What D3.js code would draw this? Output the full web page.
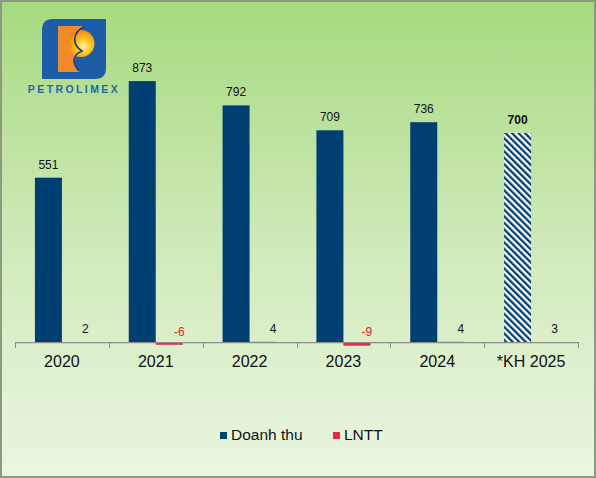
<!DOCTYPE html>
<html><head><meta charset="utf-8">
<script src="https://cdn.jsdelivr.net/npm/d3@7/dist/d3.min.js"></script>
<style>html,body{margin:0;padding:0;background:#fff;}svg{display:block;}</style>
</head><body>
<script>
const categories = ["2020","2021","2022","2023","2024","*KH 2025"];
const doanhThu = [551, 873, 792, 709, 736, 700];
const lntt = [2, -6, 4, -9, 4, 3];
const seriesNames = ["Doanh thu", "LNTT"];
const planIndex = 5; // "*KH 2025" is the plan (hatched / bold)

const W = 596, H = 478;
const svg = d3.select("body").append("svg").attr("width", W).attr("height", H);
const defs = svg.append("defs");

const bg = defs.append("linearGradient").attr("id","bg").attr("x1",0).attr("y1",0).attr("x2",0).attr("y2",1);
bg.append("stop").attr("offset","0%").attr("stop-color","#a7da80");
bg.append("stop").attr("offset","55%").attr("stop-color","#d2ebbd");
bg.append("stop").attr("offset","100%").attr("stop-color","#ebf6e1");

const pat = defs.append("pattern").attr("id","hatch").attr("patternUnits","userSpaceOnUse")
  .attr("width",4.6).attr("height",4.6).attr("patternTransform","rotate(-45)");
pat.append("rect").attr("width",4.6).attr("height",4.6).attr("fill","#ffffff");
pat.append("rect").attr("width",2.3).attr("height",4.6).attr("fill","#003f72");

const rg = defs.append("radialGradient").attr("id","ball").attr("cx","0.6").attr("cy","0.6").attr("r","0.65");
rg.append("stop").attr("offset","0%").attr("stop-color","#fff2a0");
rg.append("stop").attr("offset","45%").attr("stop-color","#ffc21e");
rg.append("stop").attr("offset","100%").attr("stop-color","#f07a18");

svg.append("rect").attr("x",1).attr("y",1).attr("width",W-2).attr("height",H-2)
  .attr("fill","url(#bg)").attr("stroke","#8b9b80").attr("stroke-width",2);

// Logo
const logo = svg.append("g");
logo.append("path").attr("fill","#1d5ca6")
  .attr("d","M42,30 Q42,19 53,19 L106,19 L106,68 Q106,79 95,79 L42,79 Z");
logo.append("path").attr("fill","#f08a2a")
  .attr("d","M58,26 L84,26 C74,32 72,44 82,52 C74,56 72,62 80,72 L58,72 Z");
logo.append("circle").attr("cx",81).attr("cy",43.5).attr("r",13.5).attr("fill","url(#ball)");
logo.append("path").attr("fill","none").attr("stroke","#1b3f7a").attr("stroke-width",1.6)
  .attr("d","M84,26.5 C72,33 72,45 82,51 C73,55 71,62 79,71");
logo.append("text").attr("x",74).attr("y",93).attr("text-anchor","middle")
  .attr("font-family","Liberation Sans, Arial, sans-serif").attr("font-weight","bold")
  .attr("font-size",10.5).attr("letter-spacing",2.4).attr("fill","#2565ad").text("PETROLIMEX");

// Scales
const x0 = d3.scaleBand().domain(categories).range([15, 578]).padding(0);
const x1 = d3.scaleBand().domain(seriesNames).range([0, x0.bandwidth()]).paddingInner(0).paddingOuter(0.737);
const y = d3.scaleLinear().domain([0, 1000]).range([343, 43]);

const navy = "#003f72", red = "#e8284a";
const font = "Liberation Sans, Arial, sans-serif";

// Doanh thu bars
svg.append("g").selectAll("rect").data(doanhThu).join("rect")
  .attr("x",(d,i)=>x0(categories[i]) + x1("Doanh thu"))
  .attr("y",d=>y(Math.max(0,d)))
  .attr("width",x1.bandwidth())
  .attr("height",d=>Math.abs(y(d)-y(0)))
  .attr("fill",(d,i)=> i===planIndex ? "url(#hatch)" : navy);

// LNTT bars
svg.append("g").selectAll("rect").data(lntt).join("rect")
  .attr("x",(d,i)=>x0(categories[i]) + x1("LNTT"))
  .attr("y",d=>y(Math.max(0,d)))
  .attr("width",x1.bandwidth())
  .attr("height",d=>Math.abs(y(d)-y(0)))
  .attr("fill",red);

// Axis (drawn over bars)
const axisY = y(0);
const ax = svg.append("g");
ax.append("line").attr("x1",15).attr("x2",578).attr("y1",axisY-0.4).attr("y2",axisY-0.4)
  .attr("stroke","#8c8c8c").attr("stroke-width",1.3);
const bounds = categories.map(c=>x0(c)).concat([x0(categories[categories.length-1]) + x0.bandwidth()]);
ax.selectAll("line.t").data(bounds).join("line").attr("class","t")
  .attr("x1",d=>Math.round(d)+0.5).attr("x2",d=>Math.round(d)+0.5)
  .attr("y1",axisY-1).attr("y2",axisY+5).attr("stroke","#8c8c8c");
ax.selectAll("text").data(categories).join("text")
  .attr("x",d=>x0(d)+x0.bandwidth()/2).attr("y",367)
  .attr("text-anchor","middle").attr("font-family",font).attr("font-size",16).attr("fill","#111")
  .text(d=>d);

// Data labels
svg.append("g").selectAll("text").data(doanhThu).join("text")
  .attr("x",(d,i)=>x0(categories[i]) + x1("Doanh thu") + x1.bandwidth()/2)
  .attr("y",d=>y(d)-9)
  .attr("text-anchor","middle").attr("font-family",font).attr("font-size",12)
  .attr("font-weight",(d,i)=> i===planIndex ? "bold" : "normal").attr("fill","#111")
  .text(d=>d);
svg.append("g").selectAll("text").data(lntt).join("text")
  .attr("x",(d,i)=>x0(categories[i]) + x1("LNTT") + x1.bandwidth()/2 + 10)
  .attr("y",d=> d>=0 ? y(d)-9 : y(0)-7)
  .attr("text-anchor","middle").attr("font-family",font).attr("font-size",12)
  .attr("fill",d=> d<0 ? "#e0202a" : "#111")
  .text(d=>d);

// Legend
const leg = svg.append("g");
const legItems = [{name:seriesNames[0], color:navy, x:220}, {name:seriesNames[1], color:red, x:333}];
leg.selectAll("rect").data(legItems).join("rect")
  .attr("x",d=>d.x).attr("y",432).attr("width",7).attr("height",7).attr("fill",d=>d.color);
leg.selectAll("text").data(legItems).join("text")
  .attr("x",d=>d.x+11).attr("y",439.5).attr("font-family",font).attr("font-size",15.5).attr("fill","#111")
  .text(d=>d.name);
</script>
</body></html>
